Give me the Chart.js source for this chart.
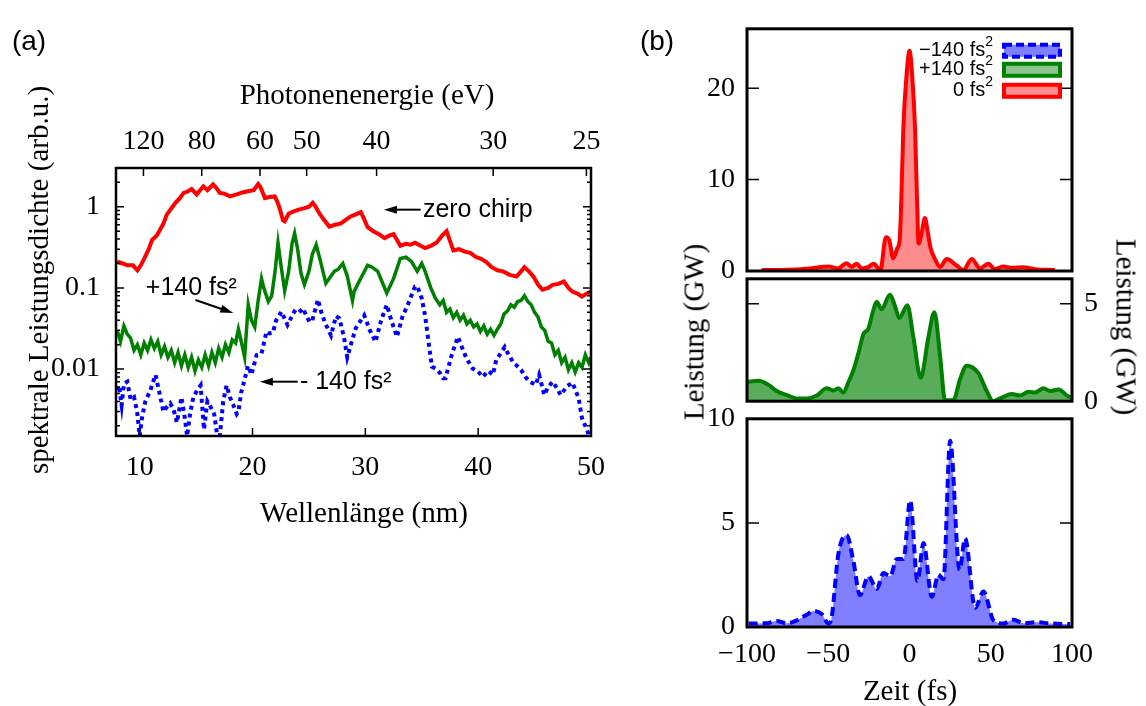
<!DOCTYPE html>
<html>
<head>
<meta charset="utf-8">
<script src="https://cdn.jsdelivr.net/npm/chart.js@4.4.1/dist/chart.umd.min.js"></script>
<style>
  body { margin: 0; width: 1146px; height: 706px; background: #fff; position: relative; overflow: hidden; }
  canvas { position: absolute; }
  .txt { position: absolute; white-space: nowrap; font-family: 'Liberation Serif', serif; font-size: 29px; color: #000; transform: translate(-50%, -50%); line-height: 1; }
  .sans { font-family: 'Liberation Sans', Arial, sans-serif; font-size: 28px; }
</style>
</head>
<body>
<canvas id="spec" width="620" height="560" style="left:0;top:0"></canvas>
<canvas id="pulse0" width="480" height="300" style="left:640px;top:0"></canvas>
<canvas id="pulsePlus" width="506" height="180" style="left:640px;top:250px"></canvas>
<canvas id="pulseMinus" width="480" height="316" style="left:640px;top:390px"></canvas>

<div class="txt sans" style="left:29px;top:41px">(a)</div>
<div class="txt sans" style="left:657px;top:41px">(b)</div>
<div class="txt" style="left:367px;top:94px">Photonenenergie (eV)</div>
<div class="txt" style="left:364px;top:512px">Wellenlänge (nm)</div>
<div class="txt" style="left:38px;top:280px;transform:translate(-50%,-50%) rotate(-90deg)">spektrale Leistungsdichte (arb.u.)</div>
<div class="txt" style="left:694px;top:332px;transform:translate(-50%,-50%) rotate(-90deg)">Leistung (GW)</div>
<div class="txt" style="left:1126px;top:327px;transform:translate(-50%,-50%) rotate(90deg)">Leistung (GW)</div>
<div class="txt" style="left:910px;top:690px">Zeit (fs)</div>

<script>
const HC = 1239.84; // eV*nm

// --- (a) Spektren: Wellenlänge (nm) / Leistungsdichte ---
const zeroNm = [8.0, 8.5, 8.9, 9.4, 9.8, 10.1, 10.4, 10.8, 11.1, 11.5, 11.8, 12.1, 12.4, 12.8, 13.15, 13.5, 13.9, 14.3, 14.6, 15.05,
  15.35, 15.64, 16.0, 16.5, 16.8, 17.1, 17.5, 18.0, 18.6, 19.1, 19.6, 20.1, 20.5, 20.7, 21.1, 21.5, 21.97, 22.2, 22.4, 22.7,
  22.85, 23.2, 23.6, 24.1, 24.6, 25.0, 25.34, 25.6, 25.9, 26.3, 26.8, 27.3, 27.8, 28.2, 28.7, 29.1, 29.6, 29.9, 30.2, 30.7,
  31.2, 31.7, 32.1, 32.5, 33.1, 33.6, 34.0, 34.4, 34.9, 35.3, 35.8, 36.3, 36.8, 37.2, 37.5, 37.8, 38.3, 38.8, 39.3, 39.8,
  40.2, 40.7, 41.2, 41.7, 42.2, 42.8, 43.4, 43.8, 44.1, 44.5, 44.9, 45.3, 45.7, 46.2, 46.6, 47.1, 47.6, 48.0, 48.35, 48.8,
  49.2, 49.6, 50.0];
const zeroVal = [0.21, 0.20, 0.19, 0.19, 0.165, 0.19, 0.23, 0.30, 0.39, 0.44, 0.52, 0.62, 0.80, 0.95, 1.11, 1.25, 1.48, 1.55, 1.65, 1.42,
  1.6, 1.78, 1.6, 1.88, 1.7, 1.48, 1.45, 1.34, 1.42, 1.5, 1.55, 1.6, 1.9, 1.75, 1.28, 1.32, 1.34, 1.15, 0.96, 0.68,
  0.66, 0.82, 0.87, 0.92, 0.96, 1.0, 1.12, 1.0, 0.84, 0.7, 0.57, 0.6, 0.62, 0.68, 0.76, 0.8, 0.86, 0.7, 0.56, 0.5,
  0.46, 0.41, 0.44, 0.46, 0.33, 0.35, 0.34, 0.36, 0.33, 0.31, 0.33, 0.36, 0.44, 0.5, 0.38, 0.29, 0.3, 0.28, 0.27, 0.24,
  0.23, 0.21, 0.18, 0.165, 0.16, 0.145, 0.138, 0.16, 0.18, 0.16, 0.138, 0.11, 0.095, 0.1, 0.109, 0.112, 0.12, 0.1, 0.09, 0.085,
  0.078, 0.085, 0.09];

const plusNm = [8.0, 8.3, 8.6, 8.9, 9.2, 9.5, 9.8, 10.1, 10.4, 10.7, 11.0, 11.3, 11.6, 11.9, 12.2, 12.5, 12.8, 13.1, 13.4, 13.7,
  14.0, 14.3, 14.6, 14.9, 15.2, 15.5, 15.8, 16.1, 16.4, 16.7, 17.0, 17.3, 17.6, 17.9, 18.2, 18.5, 18.75, 19.0, 19.3, 19.62,
  19.9, 20.2, 20.5, 20.8, 21.0, 21.4, 21.7, 22.0, 22.26, 22.5, 22.85, 23.2, 23.5, 23.73, 24.0, 24.3, 24.6, 25.0, 25.3, 25.64,
  26.0, 26.5, 27.25, 27.6, 28.0, 28.4, 28.86, 29.0, 29.45, 30.2, 30.6, 31.1, 31.9, 32.5, 33.1, 33.6, 34.1, 34.6, 35.0, 35.3,
  35.8, 36.2, 36.6, 36.9, 37.2, 37.5, 37.8, 38.1, 38.4, 38.7, 39.0, 39.3, 39.6, 39.9, 40.2, 40.5, 40.8, 41.1, 41.4, 41.7,
  42.0, 42.3, 42.6, 42.9, 43.2, 43.5, 43.8, 44.1, 44.4, 44.7, 45.0, 45.3, 45.6, 45.9, 46.2, 46.5, 46.8, 47.1, 47.4, 47.7,
  48.0, 48.3, 48.6, 48.9, 49.2, 49.5, 49.8, 50.0];
const plusVal = [0.030, 0.022, 0.034, 0.027, 0.024, 0.017, 0.020, 0.015, 0.021, 0.017, 0.023, 0.018, 0.022, 0.015, 0.019, 0.014, 0.017, 0.012, 0.016, 0.011,
  0.015, 0.0105, 0.014, 0.0095, 0.013, 0.0105, 0.015, 0.011, 0.016, 0.012, 0.018, 0.014, 0.020, 0.016, 0.023, 0.021, 0.031, 0.022, 0.014, 0.062,
  0.04, 0.033, 0.07, 0.13, 0.10, 0.068, 0.08, 0.16, 0.36, 0.2, 0.092, 0.16, 0.35, 0.47, 0.3, 0.15, 0.11, 0.16, 0.26, 0.34,
  0.22, 0.114, 0.16, 0.17, 0.2, 0.14, 0.07, 0.09, 0.12, 0.19, 0.18, 0.16, 0.086, 0.13, 0.23, 0.24, 0.21, 0.16, 0.2, 0.16,
  0.10, 0.075, 0.062, 0.07, 0.05, 0.055, 0.043, 0.05, 0.04, 0.046, 0.036, 0.04, 0.033, 0.036, 0.029, 0.034, 0.027, 0.031, 0.026, 0.031,
  0.036, 0.048, 0.052, 0.062, 0.058, 0.068, 0.07, 0.08, 0.068, 0.062, 0.05, 0.044, 0.033, 0.03, 0.022, 0.021, 0.015, 0.017, 0.012, 0.014,
  0.0098, 0.012, 0.0092, 0.012, 0.0105, 0.015, 0.012, 0.014];

const minusNm = [8.0, 8.16, 8.4, 8.6, 8.9, 9.2, 9.5, 9.77, 10.0, 10.2, 10.5, 10.95, 11.4, 11.7, 12.1, 12.4, 12.7, 13.0, 13.3, 13.7,
  14.0, 14.2, 14.5, 14.76, 15.1, 15.4, 15.7, 16.0, 16.3, 16.6, 16.85, 17.1, 17.4, 17.7, 18.0, 18.3, 18.6, 18.75, 19.0, 19.2,
  19.6, 19.9, 20.36, 20.8, 21.24, 21.5, 21.8, 22.1, 22.56, 23.1, 23.7, 24.0, 24.46, 25.05, 25.3, 25.8, 26.1, 26.4, 26.96, 27.4,
  27.7, 28.1, 28.4, 28.8, 29.15, 29.9, 30.4, 30.9, 31.4, 31.9, 32.3, 32.8, 33.3, 33.7, 34.4, 34.6, 35.0, 35.3, 35.6, 35.9,
  36.2, 36.6, 36.9, 37.1, 37.65, 38.2, 38.6, 38.97, 39.5, 40.0, 40.4, 40.9, 41.3, 41.6, 42.35, 42.7, 43.1, 43.8, 44.2, 44.55,
  45.1, 45.4, 45.86, 46.2, 46.6, 47.0, 47.3, 47.9, 48.35, 48.9, 49.2, 49.7, 50.0];
const minusVal = [0.0055, 0.0063, 0.0036, 0.0066, 0.007, 0.0042, 0.0045, 0.003, 0.0015, 0.0025, 0.004, 0.0055, 0.0085, 0.0055, 0.003, 0.0034, 0.0038, 0.0032, 0.0022, 0.0045,
  0.0025, 0.0015, 0.003, 0.0045, 0.0055, 0.0063, 0.0018, 0.004, 0.0034, 0.0028, 0.0016, 0.0015, 0.004, 0.0063, 0.0045, 0.0036, 0.0028, 0.003, 0.0052, 0.0066,
  0.011, 0.0085, 0.0149, 0.0155, 0.029, 0.0275, 0.028, 0.040, 0.051, 0.035, 0.051, 0.048, 0.056, 0.038, 0.04, 0.072, 0.05, 0.038, 0.026, 0.045,
  0.042, 0.025, 0.014, 0.022, 0.032, 0.046, 0.03, 0.0217, 0.04, 0.062, 0.04, 0.025, 0.045, 0.059, 0.104, 0.105, 0.074, 0.045, 0.0217, 0.0107,
  0.0102, 0.009, 0.0077, 0.0077, 0.0149, 0.025, 0.018, 0.0135, 0.0102, 0.0093, 0.008, 0.0095, 0.0085, 0.0129, 0.0187, 0.015, 0.0122, 0.0098, 0.008, 0.007,
  0.0064, 0.0085, 0.0048, 0.006, 0.007, 0.0058, 0.0048, 0.0062, 0.0068, 0.0044, 0.0025, 0.0017, 0.0012];

const wlTicks = [10, 20, 30, 40, 50];
const evTicks = [120, 80, 60, 50, 40, 30, 25];
const logMajor = [0.01, 0.1, 1];
const logMajorText = ['0.01', '0.1', '1'];
const logMinor = [0.002, 0.003, 0.004, 0.005, 0.006, 0.007, 0.008, 0.009, 0.02, 0.03, 0.04, 0.05, 0.06, 0.07, 0.08, 0.09,
  0.2, 0.3, 0.4, 0.5, 0.6, 0.7, 0.8, 0.9, 2, 3];

// --- (b) Pulse: Zeit (fs) / Leistung (GW) ---
const zeroFs = [-91, -75, -61, -50, -44, -38.7, -35.6, -32.5, -29.4, -25.3, -22, -18, -14.5, -12.5, -10, -7.5, -6, -5, -3.8, -2,
  0, 1.8, 3.4, 4.6, 5.6, 7.5, 9.5, 11, 13, 15.7, 18.8, 22.9, 29, 33.1, 38.3, 43.4, 48.5, 52.6, 57.7, 62.9,
  70, 77.2, 89.5];
const zeroGW = [0.1, 0.15, 0.28, 0.5, 0.28, 0.86, 0.45, 0.8, 0.28, 0.45, 0.8, 0.05, 3.7, 3.4, 1.4, 2.5, 3.5, 8, 15.6, 21,
  24.1, 21, 15.6, 8, 3.0, 4.2, 5.8, 4.5, 2.5, 1.3, 0.45, 1.3, 0.6, 0.1, 1.3, 0.28, 0.8, 0.2, 0.5, 0.35,
  0.4, 0.2, 0.1];

const plusFs = [-100, -93, -87, -81.7, -75, -69.4, -63.3, -57, -51, -46.9, -43.8, -40.7, -37.5, -34.5, -31, -28.4, -25.3, -22.5, -20.2, -17.2,
  -12, -9, -6.3, -1.3, 2.4, 6.9, 11.6, 15.3, 18.8, 21.9, 27, 31.1, 35.2, 42.4, 47.5, 51.6, 55.7, 62.9, 68, 73.2,
  77.2, 82.4, 86.5, 91.6, 97.7, 100];
const plusGW = [0.98, 1.05, 0.85, 0.52, 0.3, 0.14, 0.14, 0.29, 0.67, 0.55, 0.67, 0.44, 1.0, 1.59, 2.6, 3.43, 3.73, 4.6, 5.1, 4.72,
  5.46, 4.9, 4.27, 4.92, 3.27, 1.2, 3.27, 4.57, 2.35, 0.05, 0.05, 1.13, 1.82, 1.44, 0.52, 0.0, 0.14, 0.37, 0.29, 0.49,
  0.44, 0.67, 0.52, 0.6, 0.25, 0.2];

const minusFs = [-99, -88, -81.7, -75.5, -69.4, -63, -59.1, -54, -49.9, -47.9, -43.8, -38.7, -34.6, -30.5, -25.3, -20.2, -16, -11.9, -7.8, -3.7,
  0.4, 4.9, 8.6, 13.7, 17.8, 20.9, 25, 30.8, 34.2, 40.4, 45.5, 51.7, 57.8, 64, 70.2, 78.4, 86.6, 98.9];
const minusGW = [0.17, 0.18, 0.29, 0.18, 0.32, 0.6, 0.77, 0.62, 0.17, 0.47, 3.5, 4.41, 3.2, 1.53, 2.44, 1.83, 2.59, 2.44, 3.27, 3.27,
  6.08, 2.21, 4.03, 1.45, 2.51, 2.29, 8.95, 2.74, 4.26, 0.92, 1.71, 0.32, 0.17, 0.35, 0.18, 0.23, 0.17, 0.14];

const timeTicks = [-100, -50, 0, 50, 100];
const legendNames = ['−140 fs', '+140 fs', '0 fs'];

const SERIF = "'Liberation Serif', 'Times New Roman', serif";
const SANS = "'Liberation Sans', Arial, sans-serif";
Chart.defaults.font.family = SERIF;
Chart.defaults.color = '#000';

function pairs(xs, ys) { return xs.map((x, i) => ({ x: x, y: ys[i] })); }
function fixW(w) { return s => { s.width = w; }; }
function fixH(h) { return s => { s.height = h; }; }
function setTicks(vals) { return s => { s.ticks = vals.map(v => ({ value: v })); }; }
function minusSign(v) { return v < 0 ? '−' + Math.abs(v) : String(v); }

// Rahmen und nach innen zeigende Ticks (gnuplot-Stil)
const frameTicks = {
  id: 'frameTicks',
  afterDatasetsDraw(chart, args, opts) {
    const ctx = chart.ctx, a = chart.chartArea;
    ctx.save();
    ctx.strokeStyle = '#000';
    ctx.lineWidth = 1.5;
    (opts.marks || []).forEach(m => {
      const sc = chart.scales[m.scale];
      sc.ticks.forEach(t => {
        const p = sc.getPixelForValue(t.value);
        const len = t.label === '' ? opts.minor : opts.major;
        ctx.beginPath();
        m.sides.forEach(side => {
          if (side === 'left') { ctx.moveTo(a.left, p); ctx.lineTo(a.left + len, p); }
          if (side === 'right') { ctx.moveTo(a.right, p); ctx.lineTo(a.right - len, p); }
          if (side === 'top') { ctx.moveTo(p, a.top); ctx.lineTo(p, a.top + len); }
          if (side === 'bottom') { ctx.moveTo(p, a.bottom); ctx.lineTo(p, a.bottom - len); }
        });
        ctx.stroke();
      });
    });
    ctx.lineWidth = opts.frame || 2.5;
    ctx.strokeRect(a.left, a.top, a.right - a.left, a.bottom - a.top);
    ctx.restore();
  }
};

// Pfeile und Beschriftungen in Datenkoordinaten
const notes = {
  id: 'notes',
  afterDatasetsDraw(chart, args, opts) {
    const ctx = chart.ctx, sx = chart.scales.x, sy = chart.scales.y;
    ctx.save();
    ctx.fillStyle = '#000';
    ctx.strokeStyle = '#000';
    ctx.font = '25px ' + SANS;
    ctx.textBaseline = 'middle';
    opts.items.forEach(n => {
      if (n.text) {
        ctx.fillText(n.text, sx.getPixelForValue(n.x), sy.getPixelForValue(n.y));
      } else {
        const x0 = sx.getPixelForValue(n.from[0]), y0 = sy.getPixelForValue(n.from[1]);
        const x1 = sx.getPixelForValue(n.to[0]), y1 = sy.getPixelForValue(n.to[1]);
        const ang = Math.atan2(y1 - y0, x1 - x0);
        ctx.lineWidth = 2;
        ctx.beginPath();
        ctx.moveTo(x0, y0);
        ctx.lineTo(x1 - 10 * Math.cos(ang), y1 - 10 * Math.sin(ang));
        ctx.stroke();
        ctx.beginPath();
        ctx.moveTo(x1, y1);
        ctx.lineTo(x1 - 13 * Math.cos(ang) + 4 * Math.sin(ang), y1 - 13 * Math.sin(ang) - 4 * Math.cos(ang));
        ctx.lineTo(x1 - 13 * Math.cos(ang) - 4 * Math.sin(ang), y1 - 13 * Math.sin(ang) + 4 * Math.cos(ang));
        ctx.closePath();
        ctx.fill();
      }
    });
    ctx.restore();
  }
};

// Legende oben rechts im Panel (b)
const chirpLegend = {
  id: 'chirpLegend',
  afterDraw(chart, args, opts) {
    const ctx = chart.ctx, a = chart.chartArea;
    ctx.save();
    opts.items.forEach((it, i) => {
      const yc = a.top + opts.rows[i];
      const xr = a.right - 79;
      ctx.fillStyle = '#000';
      ctx.font = '14px ' + SANS;
      const supW = ctx.measureText('2').width;
      ctx.textAlign = 'left';
      ctx.textBaseline = 'middle';
      ctx.fillText('2', xr - supW, yc - 9);
      ctx.font = '20px ' + SANS;
      ctx.textAlign = 'right';
      ctx.fillText(it.name, xr - supW, yc);
      ctx.fillStyle = it.fill;
      ctx.fillRect(a.right - 68, yc - 6, 56, 12);
      ctx.strokeStyle = it.color;
      ctx.lineWidth = 4;
      ctx.setLineDash(it.dash || []);
      ctx.strokeRect(a.right - 68, yc - 6, 56, 12);
      ctx.setLineDash([]);
    });
    ctx.restore();
  }
};

const tickFont = { size: 28, family: SERIF };
const noGrid = { display: false, drawTicks: false };
const noBorder = { display: false };

// ---------- Panel (a) ----------
new Chart(document.getElementById('spec'), {
  type: 'line',
  data: {
    datasets: [
      { data: pairs(zeroNm, zeroVal), borderColor: '#ff0000', borderWidth: 4, pointRadius: 0, tension: 0 },
      { data: pairs(plusNm, plusVal), borderColor: '#008000', borderWidth: 3.5, pointRadius: 0, tension: 0 },
      { data: pairs(minusNm, minusVal), borderColor: '#0000ff', borderWidth: 4, borderDash: [4, 4], pointRadius: 0, tension: 0 }
    ]
  },
  options: {
    responsive: false, animation: false,
    layout: { padding: { left: 46, top: 108, right: 26, bottom: 64 } },
    plugins: {
      legend: { display: false }, tooltip: { enabled: false },
      frameTicks: { major: 8, minor: 4, frame: 2.5, marks: [
        { scale: 'y', sides: ['left', 'right'] }, { scale: 'x', sides: ['bottom'] }, { scale: 'xTop', sides: ['top'] }] },
      notes: { items: [
        { from: [34.9, 0.92], to: [31.65, 0.92] }, { text: 'zero chirp', x: 35.1, y: 0.92 },
        { from: [14.94, 0.071], to: [18.3, 0.049] }, { text: '+140 fs²', x: 10.54, y: 0.1 },
        { from: [24.0, 0.007], to: [20.65, 0.007] }, { text: '- 140 fs²', x: 24.2, y: 0.007 }
      ] }
    },
    scales: {
      x: { type: 'linear', position: 'bottom', min: 7.9, max: 50, afterBuildTicks: setTicks(wlTicks), afterFit: fixH(60),
        ticks: { font: tickFont, padding: 15, maxRotation: 0, autoSkip: false }, grid: noGrid, border: noBorder },
      xTop: { type: 'linear', position: 'top', min: 7.9, max: 50, afterFit: fixH(60),
        afterBuildTicks: s => { s.ticks = evTicks.map(e => ({ value: HC / e })); },
        ticks: { font: tickFont, padding: 10, maxRotation: 0, autoSkip: false, callback: (v, i) => String(evTicks[i]) },
        grid: noGrid, border: noBorder },
      y: { type: 'logarithmic', min: 0.0015, max: 3, afterFit: fixW(70),
        afterBuildTicks: setTicks(logMinor.concat(logMajor).sort((p, q) => p - q)),
        ticks: { font: tickFont, padding: 16, autoSkip: false,
          callback: v => { const k = logMajor.findIndex(m => Math.abs(m - v) < 1e-9); return k < 0 ? '' : logMajorText[k]; } },
        grid: noGrid, border: noBorder }
    }
  },
  plugins: [frameTicks, notes]
});

// ---------- Panel (b) ----------
function pulseChart(id, fs, gw, color, fill, dash, yOpts, pad, xOpts, extra) {
  return new Chart(document.getElementById(id), {
    type: 'line',
    data: { datasets: [{ data: pairs(fs, gw), borderColor: color, backgroundColor: fill, fill: 'origin',
      borderWidth: 4, borderDash: dash, pointRadius: 0, cubicInterpolationMode: 'monotone' }] },
    options: {
      responsive: false, animation: false,
      layout: { padding: pad },
      plugins: Object.assign({ legend: { display: false }, tooltip: { enabled: false },
        frameTicks: { major: 12, minor: 6, frame: 3, marks: [{ scale: 'y', sides: ['left', 'right'] }] } }, extra || {}),
      scales: {
        x: Object.assign({ type: 'linear', min: -100, max: 100, grid: noGrid, border: noBorder }, xOpts),
        y: Object.assign({ type: 'linear', min: 0, grid: noGrid, border: noBorder }, yOpts)
      }
    },
    plugins: [frameTicks, chirpLegend]
  });
}

pulseChart('pulse0', zeroFs, zeroGW, '#ff0000', 'rgba(255,0,0,0.45)', [],
  { max: 26.5, afterBuildTicks: setTicks([0, 10, 20]), afterFit: fixW(60), ticks: { font: tickFont, padding: 12, autoSkip: false } },
  { left: 47, top: 15, right: 48, bottom: 29 },
  { display: false },
  { chirpLegend: { rows: [22, 41, 62], items: [
    { name: legendNames[0], color: '#0000ff', fill: 'rgba(0,0,255,0.5)', dash: [8, 4] },
    { name: legendNames[1], color: '#008000', fill: 'rgba(0,128,0,0.45)' },
    { name: legendNames[2], color: '#ff0000', fill: 'rgba(255,0,0,0.45)' }] } });

pulseChart('pulsePlus', plusFs, plusGW, '#008000', 'rgba(0,128,0,0.65)', [],
  { max: 6.28, position: 'right', afterBuildTicks: setTicks([0, 5]), afterFit: fixW(45), ticks: { font: tickFont, padding: 12, autoSkip: false } },
  { left: 107, top: 21, right: 29, bottom: 22 },
  { display: false },
  { chirpLegend: { rows: [], items: [] } });

pulseChart('pulseMinus', minusFs, minusGW, '#0000ff', 'rgba(0,0,255,0.5)', [9, 5],
  { max: 10, afterBuildTicks: setTicks([0, 5, 10]), afterFit: fixW(60), ticks: { font: tickFont, padding: 12, autoSkip: false } },
  { left: 47, top: 18, right: 48, bottom: 29 },
  { position: 'bottom', afterBuildTicks: setTicks(timeTicks), afterFit: fixH(50),
    ticks: { font: tickFont, padding: 11, maxRotation: 0, autoSkip: false, callback: v => minusSign(v) } },
  { chirpLegend: { rows: [], items: [] } });
</script>
</body>
</html>
